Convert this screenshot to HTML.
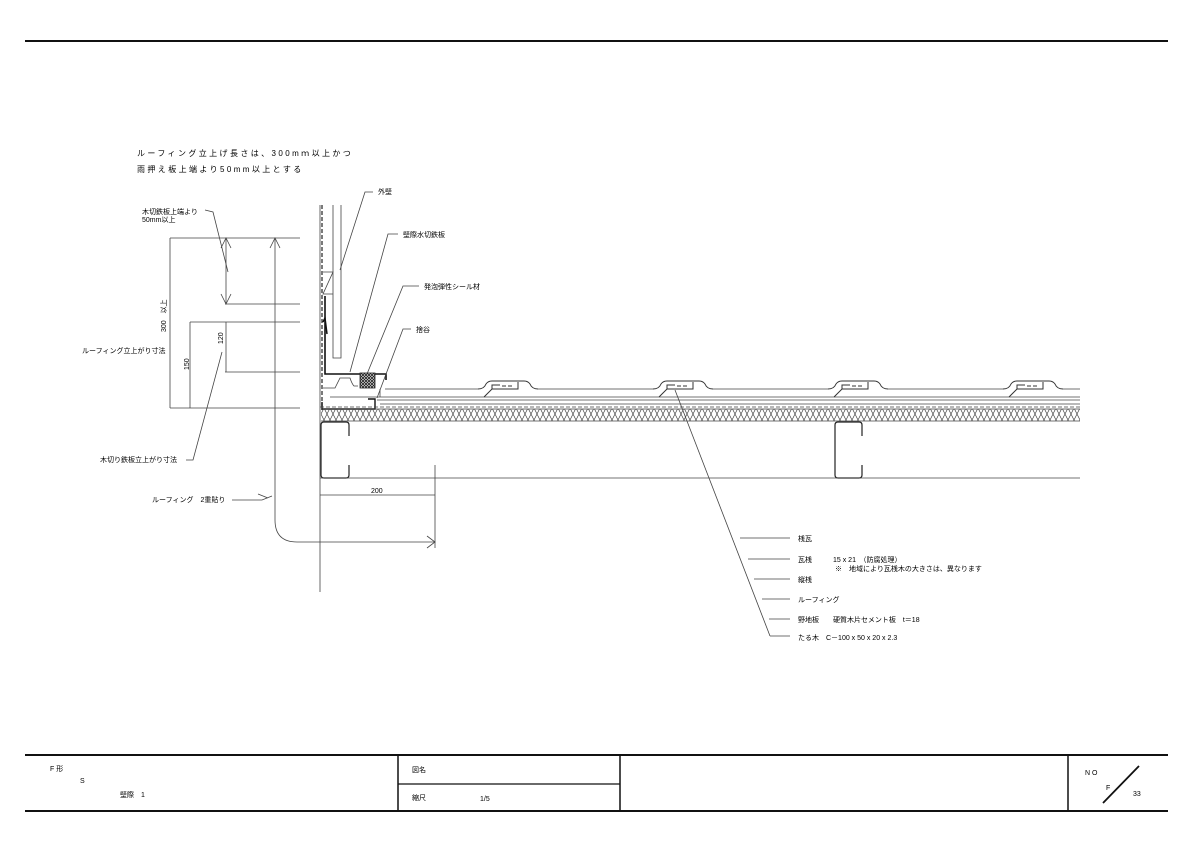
<!DOCTYPE html>
<html><head><meta charset="utf-8"><style>
html,body{margin:0;padding:0;background:#fff}
svg{display:block}
text{font-family:"Liberation Sans","Noto Sans CJK JP",sans-serif;fill:#000}
</style></head><body>
<svg width="1200" height="848" viewBox="0 0 1200 848" xmlns="http://www.w3.org/2000/svg">
<defs>
<pattern id="xh" width="6" height="12" patternUnits="userSpaceOnUse">
<path d="M0,0 L6,12 M6,0 L0,12" stroke="#444" stroke-width="0.7"/>
</pattern>
<pattern id="sh" width="3" height="3" patternUnits="userSpaceOnUse">
<rect width="3" height="3" fill="#fff"/><path d="M0,0 L3,3 M3,0 L0,3" stroke="#222" stroke-width="0.9"/>
</pattern>
<g id="bump" fill="none" stroke="#333" stroke-width="1">
<path d="M-20,0 Q-14,0 -12,-5 Q-10,-8 -6,-8 L26,-8 Q30,-8 32,-5 Q34,0 40,0"/>
<path d="M-14,8 L-6,0 L20,0 L20,-7 M-6,0 L-6,-4 L2,-4 M4,-3 l4,0 M10,-3 l4,0"/>
</g>
</defs>
<line x1="25" y1="41" x2="1168" y2="41" stroke="#111" stroke-width="2"/>
<line x1="25" y1="755" x2="1168" y2="755" stroke="#111" stroke-width="2"/>
<line x1="25" y1="811" x2="1168" y2="811" stroke="#111" stroke-width="2"/>
<line x1="398" y1="755" x2="398" y2="811" stroke="#111" stroke-width="1.5"/>
<line x1="620" y1="755" x2="620" y2="811" stroke="#111" stroke-width="1.5"/>
<line x1="1068" y1="755" x2="1068" y2="811" stroke="#111" stroke-width="1.5"/>
<line x1="398" y1="784" x2="620" y2="784" stroke="#111" stroke-width="1.2"/>
<line x1="1103" y1="803" x2="1139" y2="766" stroke="#111" stroke-width="1.8"/>
<g font-size="7">
<text x="50" y="771">F 形</text><text x="80" y="783">S</text><text x="120" y="797">壁際　1</text>
<text x="412" y="772">図名</text><text x="412" y="800">縮尺</text><text x="480" y="801">1/5</text>
<text x="1085" y="775">N O</text><text x="1106" y="790">F</text><text x="1133" y="796">33</text>
</g>
<g font-size="8" letter-spacing="2.4">
<text x="137" y="156">ルーフィング立上げ長さは、300mｍ以上かつ</text>
<text x="137" y="172">雨押え板上端より50mm以上とする</text>
</g>
<g stroke="#444" stroke-width="0.8" fill="none">
<line x1="320" y1="205" x2="320" y2="592"/>
<line x1="322" y1="205" x2="322" y2="410" stroke-dasharray="4,2" stroke="#222" stroke-width="1.2"/>
<path d="M333,205 L333,358 L341,358 L341,205"/>
<path d="M323,272 L333,272 L323,294 L333,294"/>
<path d="M325,296 L325,374 L386,374 L386,380" stroke="#111" stroke-width="1.6"/>
<path d="M323,322 L325,318 L327,334" stroke="#111" stroke-width="1.5"/>
<path d="M322,402 L322,409 L375,409 L375,399 L368,399" stroke="#111" stroke-width="1.4"/>
<path d="M323,388 L335,388 L340,378 L350,378 Q352,384 354,386 L358,386"/>
<path d="M330,397 L1080,397"/>
<path d="M385,389 L478,389 M538,389 L653,389 M713,389 L828,389 M888,389 L1003,389 M1063,389 L1080,389"/>
<path d="M380,389 L380,397"/>
<path d="M377,400 L1080,400"/>
<path d="M380,404 L1080,404"/>
<line x1="320" y1="407" x2="1080" y2="407" stroke-dasharray="4,2"/>
<line x1="321" y1="421" x2="1080" y2="421"/>
<line x1="321" y1="409" x2="1080" y2="409"/>
<path d="M349,436 L349,425 Q349,422 346,422 L324,422 Q321,422 321,425 L321,475 Q321,478 324,478 L346,478 Q349,478 349,475 L349,465" stroke="#222" stroke-width="1.2"/>
<path d="M862,436 L862,425 Q862,422 859,422 L838,422 Q835,422 835,425 L835,475 Q835,478 838,478 L859,478 Q862,478 862,475 L862,465" stroke="#222" stroke-width="1.2"/>
<line x1="320" y1="478" x2="1080" y2="478"/>
<line x1="320" y1="495" x2="435" y2="495"/>
<line x1="435" y1="465" x2="435" y2="548"/>
<path d="M275,238 L275,520 Q275,542 297,542 L435,542"/>
<path d="M427,536 L435,542 L427,548"/>
<path d="M170,238 L300,238 M225,304 L300,304 M190,322 L300,322 M225,372 L300,372 M170,408 L300,408"/>
<path d="M170,238 L170,408 M190,322 L190,408 M226,238 L226,304 M226,322 L226,372"/>
<path d="M221,248 L226,238 L231,248 M221,294 L226,304 L231,294 M270,248 L275,238 L280,248"/>
<path d="M373,192 L365,192 L340,270"/>
<path d="M398,234 L388,234 L350,372"/>
<path d="M419,286 L403,286 L367,374"/>
<path d="M411,329 L403,329 L377,398"/>
<path d="M205,210 L213,212 L228,272"/>
<path d="M186,460 L193,460 L222,352"/>
<path d="M232,500 L262,500 L272,496 M258,494 L268,498"/>
<path d="M675,390 L770,636"/>
<path d="M740,538 L790,538 M748,559 L790,559 M754,579 L790,579 M762,599 L790,599 M769,619 L790,619 M770,636 L790,636"/>
</g>
<rect x="360" y="373" width="15" height="15" fill="url(#sh)" stroke="#222" stroke-width="0.8"/>
<use href="#bump" x="498" y="389"/>
<use href="#bump" x="673" y="389"/>
<use href="#bump" x="848" y="389"/>
<use href="#bump" x="1023" y="389"/>
<rect x="321" y="409" width="759" height="12" fill="url(#xh)"/>
<g font-size="7">
<text x="378" y="194">外壁</text>
<text x="403" y="237">壁際水切鉄板</text>
<text x="424" y="289">発泡弾性シール材</text>
<text x="416" y="332">捨谷</text>
<text x="142" y="214">木切鉄板上端より</text>
<text x="142" y="222">50mm以上</text>
<text x="82" y="353">ルーフィング立上がり寸法</text>
<text x="100" y="462">木切り鉄板立上がり寸法</text>
<text x="152" y="502">ルーフィング　2重貼り</text>
<text x="371" y="493">200</text>
<text transform="translate(166,332) rotate(-90)">300　以上</text>
<text transform="translate(189,370) rotate(-90)">150</text>
<text transform="translate(223,344) rotate(-90)">120</text>
<text x="798" y="541">桟瓦</text>
<text x="798" y="562">瓦桟　　　15 x 21　（防腐処理）</text>
<text x="835" y="571">※　地域により瓦桟木の大きさは、異なります</text>
<text x="798" y="582">縦桟</text>
<text x="798" y="602">ルーフィング</text>
<text x="798" y="622">野地板　　硬質木片セメント板　t＝18</text>
<text x="798" y="640">たる木　C－100 x 50 x 20 x 2.3</text>
</g>
</svg>
</body></html>
